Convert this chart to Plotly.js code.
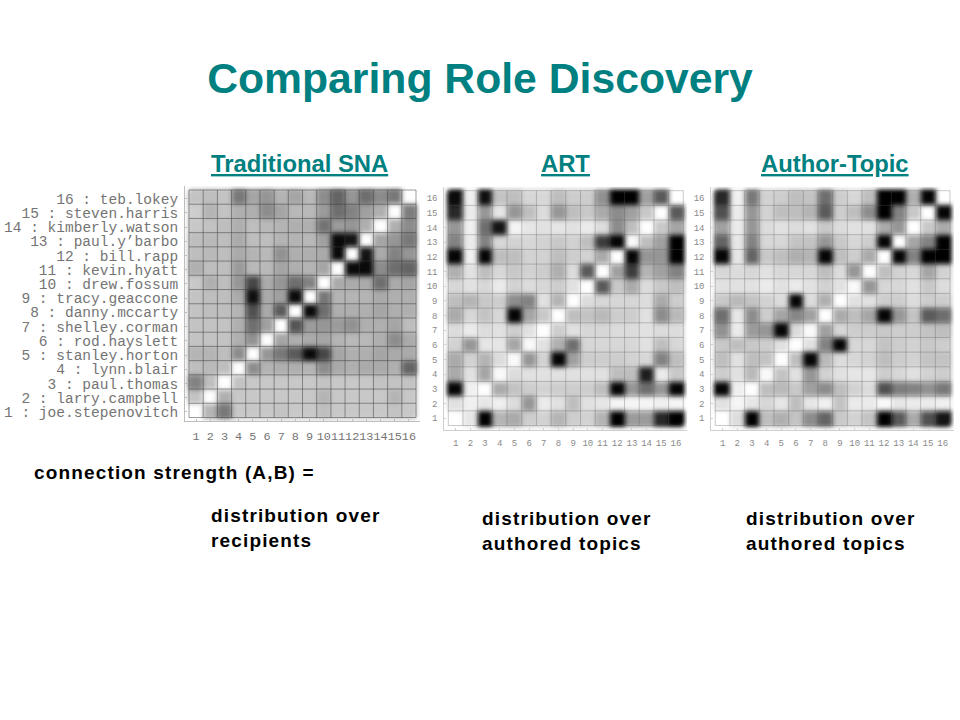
<!DOCTYPE html>
<html>
<head>
<meta charset="utf-8">
<script src="https://cdn.plot.ly/plotly-3.0.1.min.js"></script>
<style>
html,body{margin:0;padding:0;background:#fff}#chart{width:960px;height:720px}
.annotation-text[style*="font-size: 19px"]{letter-spacing:1.15px}
/* soft blur like the reference's scaled-up bitmap; two stacked copies keep the outer border solid */
.heatmaplayer image, .hm image{filter:blur(2.6px)}
</style>
</head>
<body>
<div id="chart"></div>
<script>
// Cell brightness 0 (black) to 255 (white); rows listed from person 1 up to person 16.
const cells = [1,2,3,4,5,6,7,8,9,10,11,12,13,14,15,16];
const people = ["joe.stepenovitch","larry.campbell","paul.thomas","lynn.blair","stanley.horton","rod.hayslett","shelley.corman","danny.mccarty","tracy.geaccone","drew.fossum","kevin.hyatt","bill.rapp","paul.y\u2019barbo","kimberly.watson","steven.harris","teb.lokey"];

const sna = [
[255,180,120,200,200,200,195,200,200,190,200,200,200,200,195,200],
[195,255,175,200,200,200,200,200,200,180,200,200,200,200,180,200],
[130,190,255,195,200,200,200,200,200,195,200,200,200,195,195,195],
[190,185,190,255,140,180,175,175,180,140,170,175,170,170,175,100],
[180,180,190,140,255,150,120,90,10,70,165,175,175,165,170,170],
[195,195,195,175,145,255,165,175,170,165,180,185,185,175,140,170],
[195,195,195,175,110,160,255,85,155,150,155,145,175,175,165,190],
[195,190,190,180,80,170,90,255,10,110,175,175,175,165,175,175],
[195,190,190,170,15,170,160,10,255,120,180,180,180,170,175,175],
[200,175,190,150,70,170,150,110,130,255,170,170,170,110,170,165],
[175,190,190,155,185,185,165,175,180,165,255,10,10,140,110,100],
[190,185,190,170,180,185,145,175,175,170,10,255,20,170,130,150],
[190,185,190,170,190,190,180,180,185,160,10,20,255,165,150,120],
[200,195,190,175,190,185,180,175,175,115,155,150,175,255,175,140],
[205,180,195,175,175,140,165,185,185,155,110,130,160,175,255,125],
[195,190,195,120,165,150,180,165,185,140,100,150,110,140,120,255]];

const art = [
[255,230,0,180,170,205,210,180,205,210,180,0,155,155,40,0],
[225,240,230,240,220,150,235,225,190,225,230,245,245,245,240,245],
[5,240,255,170,195,205,210,205,205,205,190,5,150,110,150,5],
[170,225,165,250,220,225,225,225,225,225,225,190,190,30,235,200],
[170,210,180,220,250,150,210,5,160,205,205,205,210,215,130,190],
[210,150,230,230,165,250,225,175,110,215,215,215,215,225,190,215],
[220,235,220,225,205,225,255,205,225,215,215,220,220,225,220,220],
[170,215,195,215,5,165,200,255,190,195,185,205,205,225,140,185],
[190,180,200,205,140,130,225,180,255,220,215,215,215,220,170,205],
[215,225,215,235,210,220,215,205,225,255,90,200,170,220,200,190],
[175,225,190,215,200,210,205,175,220,90,255,160,60,180,160,130],
[5,240,5,190,190,210,210,190,205,210,170,255,5,150,150,0],
[130,235,130,215,210,215,210,200,210,190,60,5,250,190,160,0],
[150,240,110,20,245,230,225,230,225,235,220,140,190,255,200,165],
[40,235,150,230,150,190,220,150,190,200,170,140,160,200,255,90],
[10,240,15,195,190,215,215,190,205,205,145,0,0,160,90,255]];

const authorTopic = [
[255,220,0,190,175,195,140,100,200,210,195,0,90,170,80,20],
[225,245,230,215,230,190,230,240,195,235,235,250,230,235,235,240],
[5,240,255,190,185,200,160,140,190,210,220,80,125,130,145,120],
[205,225,185,250,195,225,150,210,225,230,230,205,215,225,210,205],
[190,225,190,195,255,190,5,185,220,215,210,190,205,210,195,195],
[200,190,200,205,225,255,225,130,5,215,215,195,205,210,200,205],
[145,235,155,150,5,220,250,160,215,205,205,200,205,205,195,190],
[110,230,140,205,165,135,160,255,170,190,165,5,150,195,90,110],
[200,185,195,210,220,5,220,175,255,225,225,205,205,220,205,205],
[225,225,225,235,225,235,225,210,225,250,150,215,215,225,200,220],
[215,220,215,225,215,215,215,190,220,150,255,190,210,215,165,210],
[5,230,100,200,190,175,180,5,190,205,170,255,5,130,0,0],
[100,230,130,215,215,195,195,150,200,215,205,5,255,165,130,0],
[160,235,150,220,225,220,225,200,220,225,225,170,150,255,200,170],
[80,235,150,210,190,190,180,90,205,190,140,0,130,200,255,5],
[40,240,120,210,205,190,195,110,205,215,190,0,0,175,5,255]];

const W = 960, H = 720;
const grayscale = [[0,'#000000'],[1,'#ffffff']];
const MONO = '"Liberation Mono", monospace';
const SANS = '"Liberation Sans", Arial, sans-serif';

const panels = [
  {z: sna, x0: 189, x1: 416, y0: 190, y1: 417.5, padX: 4, padB: 3.5, grid: 'rgba(60,60,60,0.5)', axis: '#bdbdbd',
   xfont: 11.8, yfont: 14.5, color: '#747474', xstand: 4, ystand: 3, labelNudge: 0.11},
  {z: art, x0: 448.3, x1: 683.3, y0: 190.7, y1: 425.5, padX: 4, padB: 4.5, grid: 'rgba(90,90,90,0.32)', axis: '#cfcfcf',
   xfont: 9, yfont: 9, color: '#8a8a8a', xstand: 4, ystand: 4, labelNudge: 0},
  {z: authorTopic, x0: 715.3, x1: 950, y0: 190.7, y1: 425.5, padX: 4, padB: 4.5, grid: 'rgba(90,90,90,0.32)', axis: '#cfcfcf',
   xfont: 9, yfont: 9, color: '#8a8a8a', xstand: 4, ystand: 4, labelNudge: 0}
];

const data = [], shapes = [];
const layout = {
  width: W, height: H, margin: {l:0, r:0, t:0, b:0, pad:0},
  paper_bgcolor: '#fff', plot_bgcolor: '#fff', showlegend: false,
  title: {text: '<b>Comparing Role Discovery</b>', x: 0.5, xanchor: 'center', y: 1 - 78/H, yanchor: 'middle',
          font: {family: SANS, size: 42.7, color: '#008080'}},
  annotations: []
};

panels.forEach((p, i) => {
  const n = i ? String(i + 1) : '';
  const xa = 'x' + n, ya = 'y' + n;
  const cw = (p.x1 - p.x0) / 16, ch = (p.y1 - p.y0) / 16;
  for (let copy = 0; copy < 2; copy++) {
    data.push({type: 'heatmap', x: cells, y: cells, z: p.z, xaxis: xa, yaxis: ya,
      colorscale: grayscale, zmin: 0, zmax: 255, showscale: false, hoverinfo: 'skip'});
  }
  layout['xaxis' + n] = {
    domain: [(p.x0 - p.padX) / W, (p.x1 + p.padX) / W], range: [0.5 - p.padX / cw, 16.5 + p.padX / cw], anchor: ya,
    tickmode: 'array', tickvals: cells, ticktext: cells.map(String), tickangle: 0,
    tickfont: {family: MONO, size: p.xfont, color: p.color},
    showgrid: false, zeroline: false, showline: true, linecolor: p.axis, linewidth: 1,
    ticks: 'inside', ticklen: 2, tickcolor: p.axis, automargin: false, ticklabelstandoff: p.xstand
  };
  layout['yaxis' + n] = {
    domain: [1 - (p.y1 + p.padB) / H, 1 - (p.y0 - p.padX) / H], range: [0.5 - p.padB / ch, 16.5 + p.padX / ch], anchor: xa,
    tickmode: 'array', tickvals: cells.map(c => c - p.labelNudge),
    ticktext: i ? cells.map(String) : cells.map((c, k) => c + ' : ' + people[k]),
    tickangle: 0, tickfont: {family: MONO, size: p.yfont, color: p.color},
    showgrid: false, zeroline: false, showline: true, linecolor: p.axis, linewidth: 1,
    ticks: 'inside', ticklen: 2, tickcolor: p.axis, automargin: false, ticklabelstandoff: p.ystand
  };
  for (let k = 0; k <= 16; k++) {
    const v = k + 0.5;
    shapes.push({type:'line', layer:'above', xref:xa, yref:ya, x0:v, x1:v, y0:0.5, y1:16.5, line:{color:p.grid, width:1}});
    shapes.push({type:'line', layer:'above', xref:xa, yref:ya, x0:0.5, x1:16.5, y0:v, y1:v, line:{color:p.grid, width:1}});
  }
});
layout.shapes = shapes;

function label(text, px, py, size, color, anchor) {
  layout.annotations.push({text, xref:'paper', yref:'paper', x: px / W, y: 1 - py / H,
    xanchor: anchor, yanchor: 'middle', align: 'left', showarrow: false,
    font: {family: SANS, size, color}});
}
const TEAL = '#008080';
label('<b><u>Traditional SNA</u></b>', 299, 164, 23.8, TEAL, 'center');
label('<b><u>ART</u></b>', 565, 164, 23.8, TEAL, 'center');
label('<b><u>Author-Topic</u></b>', 835, 164, 23.8, TEAL, 'center');
label('<b>connection strength (A,B) =</b>', 32, 472, 19, '#000', 'left');
label('<b>distribution over</b>', 209, 515, 19, '#000', 'left');
label('<b>recipients</b>', 209, 540, 19, '#000', 'left');
label('<b>distribution over</b>', 480, 518, 19, '#000', 'left');
label('<b>authored topics</b>', 480, 543, 19, '#000', 'left');
label('<b>distribution over</b>', 744, 518, 19, '#000', 'left');
label('<b>authored topics</b>', 744, 543, 19, '#000', 'left');

Plotly.newPlot('chart', data, layout, {staticPlot: true, displayModeBar: false});
</script>
</body>
</html>
